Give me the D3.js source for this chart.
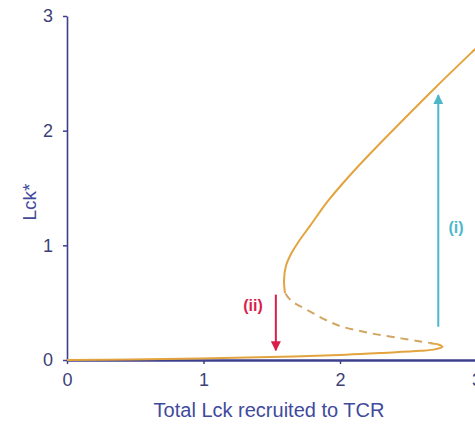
<!DOCTYPE html>
<html>
<head>
<meta charset="utf-8">
<script src="https://cdn.jsdelivr.net/npm/d3@7"></script>
<style>
  body { margin: 0; background: #fff; }
  text { font-family: "Liberation Sans", Arial, sans-serif; }
</style>
</head>
<body>
<script>
// chart size
var w = 475;
var h = 427;

// data (x = total Lck, y = Lck*)
var upperBranch = [
  [1.597, 0.584], [1.590, 0.698], [1.604, 0.820], [1.641, 0.924], [1.700, 1.038],
  [1.780, 1.169], [1.912, 1.387], [2.06, 1.594], [2.22, 1.799], [2.44, 2.067],
  [2.711, 2.39], [2.989, 2.71], [3.099, 2.835]
];
var unstableBranch = [
  [1.60, 0.58], [1.64, 0.52], [1.76, 0.436], [1.98, 0.305], [2.22, 0.235],
  [2.44, 0.19], [2.60, 0.16], [2.68, 0.145]
];
var lowerBranch = [
  [0, 0], [0.46, 0.004], [0.97, 0.013], [1.49, 0.026], [2.00, 0.044],
  [2.29, 0.061], [2.59, 0.08], [2.70, 0.095], [2.75, 0.115], [2.72, 0.135], [2.66, 0.145]
];
var xTicks = [0, 1, 2, 3];
var yTicks = [0, 1, 2, 3];
// arrows: [x, yFrom, yTo]
var arrowDown = [1.53, 0.57, 0.085];
var arrowUp = [2.72, 0.29, 2.31];

var xScale = d3.scaleLinear().domain([0, 3]).range([67, 476.5]);
var yScale = d3.scaleLinear().domain([0, 3]).range([360, 16]);

var svg = d3.select("body").append("svg")
  .attr("width", w)
  .attr("height", h);

var navy = "#3b3f8c";
var textBlue = "#3f4a9c";
var gold = "#e3a43f";
var red = "#d81f4b";
var cyan = "#4cb7c9";

var defs = svg.append("defs");
function marker(id, color) {
  defs.append("marker")
    .attr("id", id)
    .attr("viewBox", "0 0 10 10")
    .attr("refX", 9).attr("refY", 5)
    .attr("markerWidth", 5).attr("markerHeight", 6)
    .attr("markerUnits", "strokeWidth")
    .attr("orient", "auto")
    .append("path")
    .attr("d", "M0,0 L10,5 L0,10 Z")
    .attr("fill", color);
}
marker("headRed", red);
marker("headCyan", cyan);

// axes
var xAxis = d3.axisBottom(xScale).tickValues(xTicks).tickSize(4).tickSizeOuter(0).tickFormat(d3.format("d"));
var yAxis = d3.axisLeft(yScale).tickValues(yTicks).tickSize(4).tickSizeOuter(0).tickFormat(d3.format("d"));

var gx = svg.append("g")
  .attr("class", "x axis")
  .attr("transform", "translate(0," + yScale(0) + ")")
  .call(xAxis);
gx.select(".domain").attr("stroke", navy).attr("stroke-width", 2.5);
gx.selectAll(".tick line").attr("stroke", navy).attr("stroke-width", 1.5);
gx.selectAll(".tick text")
  .attr("fill", "#3c3f78")
  .attr("font-size", 18)
  .attr("dy", "1.05em");

var gy = svg.append("g")
  .attr("class", "y axis")
  .attr("transform", "translate(" + xScale(0) + ",0)")
  .call(yAxis);
gy.select(".domain").attr("stroke", navy).attr("stroke-width", 1.6);
gy.selectAll(".tick line").attr("stroke", navy).attr("stroke-width", 1.5);
gy.selectAll(".tick text")
  .attr("fill", "#3c3f78")
  .attr("font-size", 18)
  .attr("x", -14);

// axis titles
svg.append("text")
  .attr("x", 269).attr("y", 417)
  .attr("text-anchor", "middle")
  .attr("font-size", 20)
  .attr("fill", textBlue)
  .text("Total Lck recruited to TCR");

svg.append("text")
  .attr("transform", "translate(36,202) rotate(-90)")
  .attr("text-anchor", "middle")
  .attr("font-size", 19)
  .attr("fill", textBlue)
  .text("Lck*");

// curves
var line = d3.line()
  .x(function(d) { return xScale(d[0]); })
  .y(function(d) { return yScale(d[1]); })
  .curve(d3.curveCatmullRom);

svg.append("path")
  .datum(lowerBranch)
  .attr("d", line)
  .attr("fill", "none")
  .attr("stroke", gold)
  .attr("stroke-width", 2);

svg.append("path")
  .datum(unstableBranch)
  .attr("d", line)
  .attr("fill", "none")
  .attr("stroke", "#d2a660")
  .attr("stroke-width", 2)
  .attr("stroke-dasharray", "8,6");

svg.append("path")
  .datum(upperBranch)
  .attr("d", line)
  .attr("fill", "none")
  .attr("stroke", gold)
  .attr("stroke-width", 2);

// arrows
svg.append("line")
  .attr("x1", xScale(arrowDown[0])).attr("x2", xScale(arrowDown[0]))
  .attr("y1", yScale(arrowDown[1])).attr("y2", yScale(arrowDown[2]))
  .attr("stroke", red).attr("stroke-width", 2)
  .attr("marker-end", "url(#headRed)");

svg.append("line")
  .attr("x1", xScale(arrowUp[0])).attr("x2", xScale(arrowUp[0]))
  .attr("y1", yScale(arrowUp[1])).attr("y2", yScale(arrowUp[2]))
  .attr("stroke", cyan).attr("stroke-width", 2)
  .attr("marker-end", "url(#headCyan)");

svg.append("text")
  .attr("x", 253).attr("y", 311)
  .attr("text-anchor", "middle")
  .attr("font-size", 16)
  .attr("font-weight", "bold")
  .attr("fill", red)
  .text("(ii)");

svg.append("text")
  .attr("x", 456).attr("y", 233)
  .attr("text-anchor", "middle")
  .attr("font-size", 16)
  .attr("font-weight", "bold")
  .attr("fill", cyan)
  .text("(i)");
</script>
</body>
</html>
